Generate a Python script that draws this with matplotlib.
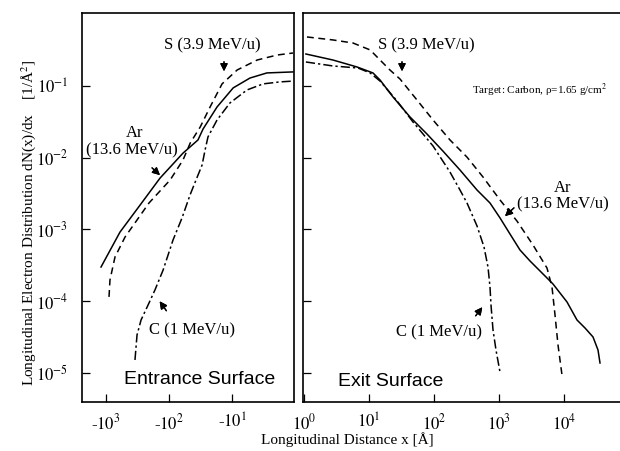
import numpy as np
import matplotlib.pyplot as plt
from matplotlib.ticker import FixedLocator, FixedFormatter, NullLocator

plt.rcParams['font.family'] = ['Liberation Serif', 'DejaVu Serif']
plt.rcParams['mathtext.fontset'] = 'stix'

# entrance surface (x < 0), Angstrom
ar_in_x = [-1200, -600, -288, -139, -60, -34.7, -28.8, -17.3, -9.6, -5.2, -2.8, -1.08]
ar_in_y = [3.0e-4, 9.2e-4, 2.19e-3, 5.2e-3, 1.16e-2, 1.77e-2, 2.52e-2, 5.1e-2, 9.4e-2, 0.129, 0.152, 0.157]
s_in_x = [-896, -865, -720, -499, -208, -96, -60, -46, -32, -22.3, -14.4, -8.3, -4.0, -1.93, -1.08]
s_in_y = [1.15e-4, 1.98e-4, 4.14e-4, 7.85e-4, 2.34e-3, 4.9e-3, 9.3e-3, 1.61e-2, 2.68e-2, 5.1e-2,
          0.107, 0.167, 0.230, 0.270, 0.288]
c_in_x = [-347, -322, -278, -215, -167, -124, -86.4, -62.2, -46.4, -37.3, -29.9, -26.8, -24.1,
          -17.3, -10.8, -5.8, -3.2, -1.73, -1.08]
c_in_y = [1.52e-5, 3.39e-5, 5.48e-5, 8.87e-5, 1.44e-4, 2.73e-4, 7.14e-4, 1.45e-3, 3.03e-3, 4.9e-3,
          7.9e-3, 1.28e-2, 1.95e-2, 3.36e-2, 5.8e-2, 8.8e-2, 0.107, 0.114, 0.117]

# exit surface (x > 0)
s_out_x = [1.11, 2.79, 5.67, 10.4, 14.8, 21.0, 30.0, 54.7, 96.5, 176, 322, 567, 1036, 1892, 3336,
           5476, 6536, 7272, 8090, 9310]
s_out_y = [0.482, 0.438, 0.397, 0.318, 0.230, 0.167, 0.125, 0.0638, 0.0336, 0.0177, 0.0102, 5.39e-3,
           2.58e-3, 1.31e-3, 6.08e-4, 2.9e-4, 1.58e-4, 6.43e-5, 2.45e-5, 9.4e-6]
ar_out_x = [1.07, 2.79, 6.54, 11.5, 14.8, 23.4, 42.7, 78.0, 137, 251, 459, 727, 1036, 1476, 2104,
            3000, 4753, 6771, 11120, 15850, 21040, 27940, 33360, 35800]
ar_out_y = [0.279, 0.230, 0.184, 0.152, 0.121, 0.0703, 0.0370, 0.0214, 0.0124, 6.75e-3, 3.55e-3,
            2.34e-3, 1.45e-3, 8.65e-4, 5.18e-4, 3.64e-4, 2.40e-4, 1.74e-4, 9.77e-5, 5.48e-5,
            4.24e-5, 3.18e-5, 2.09e-5, 1.38e-5]
c_out_x = [1.07, 2.79, 6.77, 10.4, 14.8, 27.0, 47.5, 96.5, 176, 251, 322, 459, 588, 677, 727, 753,
           809, 899, 1036]
c_out_y = [0.216, 0.190, 0.178, 0.152, 0.117, 0.0618, 0.0315, 0.0146, 6.32e-3, 3.55e-3, 2.34e-3,
           1.12e-3, 5.70e-4, 3.0e-4, 1.58e-4, 8.87e-5, 3.97e-5, 2.09e-5, 1.03e-5]

y_ticks = [1e-5, 1e-4, 1e-3, 1e-2, 1e-1]
y_labels = ['$10^{-5}$', '$10^{-4}$', '$10^{-3}$', '$10^{-2}$', '$10^{-1}$']
in_ticks = [1000, 100, 10]
in_labels = ['-$10^{3}$', '-$10^{2}$', '-$10^{1}$']
out_ticks = [1, 10, 100, 1000, 10000]
out_labels = ['$10^{0}$', '$10^{1}$', '$10^{2}$', '$10^{3}$', '$10^{4}$']

W, H = 620, 451
fig = plt.figure(figsize=(6.2, 4.51), dpi=100)


def P(x, y):
    return (x / W, 1 - y / H)


ax1 = fig.add_axes([82 / W, 49 / H, 212 / W, 389 / H])
ax2 = fig.add_axes([303 / W, 49 / H, 317 / W, 389 / H])

solid = dict(color='black', lw=1.1, ls='-')
dash = dict(color='black', lw=1.1, ls=(0, (4.5, 3)))
dashdot = dict(color='black', lw=1.1, ls=(0, (6, 2, 1.5, 2)))

# left panel: plot |x| on a reversed log axis
ax1.plot(-np.array(ar_in_x), ar_in_y, **solid)
ax1.plot(-np.array(s_in_x), s_in_y, **dash)
ax1.plot(-np.array(c_in_x), c_in_y, **dashdot)
ax1.set_xscale('log')
ax1.set_yscale('log')
ax1.set_xlim(2404, 1.04)

ax2.plot(ar_out_x, ar_out_y, **solid)
ax2.plot(s_out_x, s_out_y, **dash)
ax2.plot(c_out_x, c_out_y, **dashdot)
ax2.set_xscale('log')
ax2.set_yscale('log')
ax2.set_xlim(0.965, 72700)
ax2.spines['right'].set_visible(False)

for ax in (ax1, ax2):
    ax.set_ylim(10 ** -5.404, 10 ** 0.017)
    ax.yaxis.set_major_locator(FixedLocator(y_ticks))
    ax.yaxis.set_minor_locator(NullLocator())
    ax.xaxis.set_minor_locator(NullLocator())
    ax.tick_params(direction='in', length=6, width=0.9, labelsize=12)
    ax.tick_params(axis='x', pad=8)
    ax.tick_params(axis='y', pad=10)
    for sp in ax.spines.values():
        sp.set_linewidth(1.2)

ax1.yaxis.set_major_formatter(FixedFormatter(y_labels))
ax2.yaxis.set_major_formatter(FixedFormatter([''] * 5))
ax1.xaxis.set_major_locator(FixedLocator(in_ticks))
ax1.xaxis.set_major_formatter(FixedFormatter(in_labels))
ax2.xaxis.set_major_locator(FixedLocator(out_ticks))
ax2.xaxis.set_major_formatter(FixedFormatter(out_labels))

lab = dict(fontsize=12, ha='center', va='center')
fig.text(*P(212, 45), 'S (3.9 MeV/u)', **lab)
fig.text(*P(426, 45), 'S (3.9 MeV/u)', **lab)
fig.text(*P(135, 133), 'Ar', **lab)
fig.text(*P(132, 150), '(13.6 MeV/u)', **lab)
fig.text(*P(563, 188), 'Ar', **lab)
fig.text(*P(563, 204), '(13.6 MeV/u)', **lab)
fig.text(*P(192, 330), 'C (1 MeV/u)', **lab)
fig.text(*P(439, 332), 'C (1 MeV/u)', **lab)
fig.text(*P(472, 90), 'Target: Carbon, ρ=1.65 g/cm$^2$', fontsize=8, ha='left', va='center')

sans = dict(fontsize=14, ha='center', va='center', family='Liberation Sans')
fig.text(*P(200, 380), 'Entrance Surface', **sans)
fig.text(*P(391, 382), 'Exit Surface', **sans)

arr = dict(arrowstyle='-|>', color='black', lw=0.9, mutation_scale=11)
for (x0, y0, x1, y1) in [(224, 59, 224, 74), (150, 166, 162, 177), (168, 313, 158, 299),
                         (402, 59, 402, 74), (516, 206, 503, 218), (474, 318, 484, 305)]:
    fig.add_artist(plt.annotate('', xy=P(x1, y1), xytext=P(x0, y0), xycoords='figure fraction',
                                textcoords='figure fraction', arrowprops=arr))

fig.text(*P(347, 440), 'Longitudinal Distance x [Å]', fontsize=11, ha='center', va='center')
fig.text(*P(29, 223), 'Longitudinal Electron Distribution dN(x)/dx    [1/Å$^2$]',
         fontsize=11, rotation=90, ha='center', va='center')

fig.savefig('out.png', dpi=100)
